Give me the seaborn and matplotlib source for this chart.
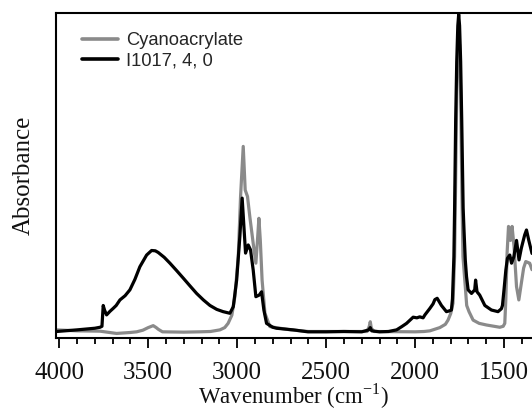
import matplotlib
matplotlib.use("Agg")
import matplotlib.pyplot as plt
import seaborn as sns
import pandas as pd
from matplotlib.ticker import MultipleLocator

# Cyanoacrylate (gray) spectrum: wavenumber (cm^-1), absorbance (a.u.)
cyano_wn = [4015, 3900, 3771, 3678, 3600, 3565, 3530, 3500, 3472, 3455, 3444, 3420, 3300, 3210,
            3150, 3097, 3070, 3051, 3030, 3013, 2994, 2981, 2966, 2955, 2942, 2929, 2910, 2895,
            2886, 2878, 2870, 2860, 2844, 2816, 2760, 2700, 2600, 2400, 2270, 2258, 2252, 2246,
            2230, 2000, 1950, 1917, 1861, 1830, 1815, 1800, 1787, 1778, 1773, 1766, 1760, 1755,
            1750, 1744, 1737, 1731, 1718, 1710, 1697, 1674, 1640, 1599, 1524, 1505, 1496, 1490,
            1483, 1475, 1468, 1464, 1455, 1444, 1430, 1417, 1403, 1390, 1378, 1365, 1356, 1343]
cyano_abs = [0.025, 0.022, 0.021, 0.014, 0.017, 0.019, 0.024, 0.032, 0.038, 0.032, 0.027, 0.019,
             0.018, 0.019, 0.020, 0.025, 0.032, 0.045, 0.070, 0.127, 0.250, 0.435, 0.589, 0.455,
             0.435, 0.373, 0.291, 0.230, 0.300, 0.368, 0.300, 0.178, 0.076, 0.035, 0.030, 0.025,
             0.020, 0.020, 0.020, 0.035, 0.050, 0.030, 0.020, 0.019, 0.020, 0.022, 0.032, 0.042,
             0.055, 0.075, 0.107, 0.250, 0.450, 0.750, 0.900, 0.930, 0.900, 0.750, 0.450, 0.250,
             0.158, 0.100, 0.081, 0.055, 0.045, 0.040, 0.033, 0.036, 0.045, 0.120, 0.261, 0.343,
             0.310, 0.300, 0.343, 0.281, 0.158, 0.117, 0.168, 0.215, 0.235, 0.232, 0.230, 0.210]

# I1017, 4, 0 (black) spectrum
i1017_wn = [4015, 3900, 3800, 3771, 3760, 3753, 3745, 3734, 3715, 3697, 3680, 3659, 3630, 3603,
            3575, 3547, 3509, 3481, 3460, 3444, 3410, 3378, 3340, 3303, 3265, 3228, 3190, 3153,
            3115, 3079, 3041, 3022, 3003, 2985, 2972, 2961, 2953, 2938, 2925, 2910, 2895, 2876,
            2863, 2850, 2835, 2800, 2779, 2685, 2603, 2500, 2400, 2300, 2260, 2252, 2244, 2200,
            2150, 2104, 2075, 2048, 2011, 1990, 1974, 1955, 1945, 1917, 1899, 1889, 1876, 1865,
            1852, 1824, 1810, 1796, 1790, 1782, 1778, 1772, 1766, 1760, 1755, 1750, 1744, 1738,
            1730, 1725, 1718, 1711, 1702, 1683, 1665, 1660, 1652, 1637, 1608, 1571, 1534, 1515,
            1509, 1500, 1490, 1481, 1468, 1458, 1445, 1430, 1416, 1403, 1384, 1374, 1361, 1343]
i1017_abs = [0.020, 0.025, 0.030, 0.033, 0.036, 0.100, 0.085, 0.071, 0.082, 0.091, 0.100, 0.117,
             0.130, 0.148, 0.180, 0.219, 0.255, 0.269, 0.268, 0.263, 0.248, 0.230, 0.207, 0.184,
             0.160, 0.137, 0.117, 0.100, 0.088, 0.081, 0.076, 0.096, 0.178, 0.312, 0.430, 0.332,
             0.261, 0.286, 0.271, 0.209, 0.127, 0.132, 0.142, 0.086, 0.045, 0.033, 0.030, 0.025,
             0.019, 0.019, 0.020, 0.019, 0.025, 0.032, 0.022, 0.019, 0.020, 0.025, 0.035, 0.045,
             0.064, 0.062, 0.065, 0.062, 0.071, 0.091, 0.105, 0.118, 0.122, 0.112, 0.100, 0.081,
             0.083, 0.086, 0.120, 0.250, 0.400, 0.670, 0.850, 0.960, 0.995, 0.960, 0.850, 0.670,
             0.400, 0.330, 0.240, 0.189, 0.148, 0.137, 0.148, 0.178, 0.142, 0.132, 0.100, 0.086,
             0.081, 0.090, 0.100, 0.150, 0.209, 0.245, 0.255, 0.230, 0.250, 0.300, 0.240, 0.276,
             0.317, 0.332, 0.300, 0.260]

labels = ["Cyanoacrylate", "I1017, 4, 0"]
colors = ["#8a8a8a", "#000000"]

df = pd.concat([
    pd.DataFrame({"wn": cyano_wn, "abs": cyano_abs, "sample": labels[0]}),
    pd.DataFrame({"wn": i1017_wn, "abs": i1017_abs, "sample": labels[1]}),
])

sns.set_theme(style="ticks")
plt.rcParams["font.family"] = ["Liberation Serif", "DejaVu Serif"]
plt.rcParams["mathtext.fontset"] = "custom"
plt.rcParams["mathtext.rm"] = "Liberation Serif"

fig = plt.figure(figsize=(5.32, 4.12), dpi=100)
ax = fig.add_axes([55.7 / 532, 74 / 412, 1 - 55.7 / 532, (338 - 12.7) / 412])

sns.lineplot(data=df, x="wn", y="abs", hue="sample", palette=dict(zip(labels, colors)),
             estimator=None, sort=False, linewidth=2.3, ax=ax)

ax.set_xlim(4020, 1343)
ax.set_ylim(0, 1)
ax.set_yticks([])
ax.xaxis.set_major_locator(MultipleLocator(500))
ax.xaxis.set_minor_locator(MultipleLocator(100))
ax.tick_params(axis="x", which="major", direction="out", length=7, width=1.3,
               labelsize=18, pad=10, color="black", labelcolor="#111111")
ax.tick_params(axis="x", which="minor", direction="out", length=4.5, width=1.3, color="black")
for side in ["left", "top", "bottom"]:
    ax.spines[side].set_linewidth(1.5)
    ax.spines[side].set_color("black")
ax.spines["right"].set_visible(False)

ax.set_xlabel("Wavenumber (cm$^{\\mathregular{-1}}$)", fontsize=16.5, labelpad=-1.5, color="#111111")
ax.set_ylabel("Absorbance", fontsize=18, labelpad=15, color="#111111")

leg = ax.legend(loc="upper left", bbox_to_anchor=(0.055, 0.94), frameon=False,
                prop={"family": "Liberation Sans", "size": 13.2},
                handlelength=1.97, handletextpad=0.45, labelspacing=0.2, borderaxespad=0,
                borderpad=0)
for line in leg.get_lines():
    line.set_linewidth(2.6)

fig.savefig("out.png", dpi=100)
